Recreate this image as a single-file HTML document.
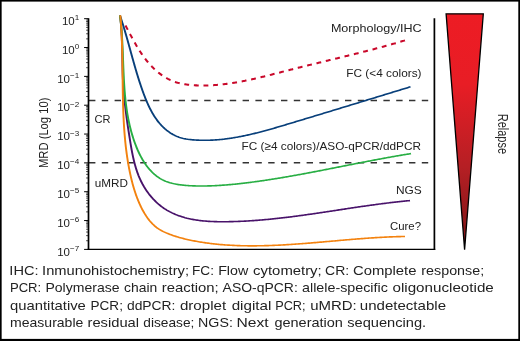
<!DOCTYPE html>
<html><head><meta charset="utf-8"><title>MRD</title>
<style>
html,body{margin:0;padding:0;background:#fff;}
body{width:520px;height:341px;overflow:hidden;}
svg{display:block;will-change:transform;}
text{font-family:"Liberation Sans",sans-serif;fill:#222;}
.tk{font-size:11.5px;fill:#1c1c1c;}
.lb{font-size:11.6px;}
.cap{font-size:12.9px;fill:#222;}
</style></head><body>
<svg width="520" height="341" viewBox="0 0 520 341">
<defs>
<linearGradient id="g" x1="0" y1="0" x2="0" y2="1">
<stop offset="0" stop-color="#ed1c24"/>
<stop offset="0.3" stop-color="#e81d25"/>
<stop offset="0.65" stop-color="#b51f24"/>
<stop offset="1" stop-color="#7a1416"/>
</linearGradient>
</defs>
<rect x="0" y="0" width="520" height="341" fill="#fff"/>
<!-- outer border -->
<rect x="0" y="0" width="520" height="1.6" fill="#000"/>
<rect x="0" y="0" width="1.65" height="341" fill="#000"/>
<rect x="518.3" y="0" width="1.7" height="341" fill="#000"/>
<rect x="0" y="338.9" width="520" height="2.1" fill="#000"/>
<!-- dashed ref lines -->
<line x1="89" y1="100.4" x2="434" y2="100.4" stroke="#333" stroke-width="1.5" stroke-dasharray="6.4 6.4"/>
<line x1="89" y1="162.7" x2="434" y2="162.7" stroke="#333" stroke-width="1.5" stroke-dasharray="6.4 6.4"/>
<!-- curves -->
<path d="M125.38,25.27 L125.76,25.98 L126.14,26.70 L126.52,27.42 L126.90,28.13 L127.28,28.86 L127.66,29.58 L128.04,30.30 L128.42,31.02 L128.80,31.75 L129.18,32.47 L129.57,33.20 L129.95,33.92 L130.34,34.65 L130.73,35.37 L131.12,36.10 L131.51,36.83 L131.90,37.55 L132.30,38.28 L132.69,39.00 L133.09,39.72 L133.49,40.45 L133.89,41.17 L134.30,41.89 L134.70,42.61 L135.11,43.33 L135.53,44.05 L135.94,44.76 L136.36,45.48 L136.78,46.19 L137.21,46.90 L137.63,47.61 L138.07,48.31 L138.50,49.01 L138.94,49.72 L139.38,50.41 L139.83,51.11 L140.28,51.80 L140.73,52.49 L141.19,53.18 L141.65,53.86 L142.12,54.54 L142.59,55.22 L143.06,55.89 L143.54,56.56 L144.03,57.23 L144.52,57.89 L145.01,58.54 L145.51,59.20 L146.02,59.85 L146.53,60.49 L147.05,61.13 L147.57,61.76 L148.10,62.39 L148.63,63.02 L149.17,63.64 L149.72,64.25 L150.27,64.86 L150.82,65.46 L151.39,66.06 L151.95,66.65 L152.53,67.23 L153.11,67.81 L153.69,68.38 L154.28,68.94 L154.87,69.50 L155.48,70.05 L156.08,70.59 L156.69,71.12 L157.31,71.65 L157.93,72.17 L158.56,72.68 L159.20,73.18 L159.83,73.67 L160.48,74.15 L161.13,74.63 L161.78,75.09 L162.44,75.55 L163.11,76.00 L163.78,76.43 L164.45,76.86 L165.13,77.28 L165.82,77.68 L166.51,78.08 L167.21,78.46 L167.91,78.84 L168.62,79.20 L169.33,79.55 L170.04,79.90 L170.77,80.22 L171.49,80.54 L172.23,80.85 L172.96,81.14 L173.70,81.42 L174.45,81.69 L175.20,81.95 L175.96,82.20 L176.72,82.43 L177.48,82.66 L178.25,82.87 L179.02,83.07 L179.80,83.26 L180.57,83.45 L181.36,83.62 L182.14,83.78 L182.93,83.94 L183.72,84.08 L184.51,84.22 L185.31,84.35 L186.11,84.47 L186.91,84.58 L187.71,84.69 L188.51,84.78 L189.32,84.87 L190.13,84.96 L190.93,85.03 L191.74,85.10 L192.55,85.16 L193.37,85.22 L194.18,85.27 L194.99,85.32 L195.80,85.36 L196.62,85.39 L197.43,85.42 L198.24,85.45 L199.05,85.47 L199.87,85.49 L200.68,85.50 L201.49,85.51 L202.30,85.51 L203.11,85.51 L203.92,85.51 L204.73,85.50 L205.55,85.49 L206.36,85.47 L207.17,85.45 L207.98,85.43 L208.78,85.40 L209.59,85.36 L210.40,85.33 L211.21,85.29 L212.02,85.25 L212.83,85.20 L213.64,85.15 L214.44,85.09 L215.25,85.04 L216.06,84.97 L216.87,84.91 L217.67,84.84 L218.48,84.77 L219.29,84.69 L220.09,84.61 L220.90,84.53 L221.70,84.45 L222.51,84.36 L223.31,84.27 L224.12,84.17 L224.92,84.08 L225.73,83.98 L226.53,83.87 L227.34,83.77 L228.14,83.66 L228.95,83.55 L229.75,83.43 L230.55,83.31 L231.35,83.19 L232.16,83.07 L232.96,82.94 L233.76,82.82 L234.56,82.69 L235.37,82.55 L236.17,82.42 L236.97,82.28 L237.77,82.14 L238.57,82.00 L239.37,81.85 L240.17,81.70 L240.97,81.55 L241.77,81.40 L242.58,81.25 L243.37,81.09 L244.17,80.93 L244.97,80.78 L245.77,80.61 L246.57,80.45 L247.37,80.28 L248.17,80.12 L248.97,79.95 L249.77,79.78 L250.57,79.61 L251.36,79.43 L252.16,79.26 L252.96,79.08 L253.76,78.90 L254.55,78.72 L255.35,78.54 L256.15,78.35 L256.94,78.17 L257.74,77.98 L258.54,77.80 L259.33,77.61 L260.13,77.42 L260.93,77.23 L261.72,77.04 L262.52,76.85 L263.31,76.65 L264.11,76.46 L264.90,76.26 L265.70,76.07 L266.49,75.87 L267.29,75.67 L268.08,75.47 L268.87,75.27 L269.67,75.07 L270.46,74.87 L271.26,74.67 L272.05,74.47 L272.84,74.27 L273.64,74.07 L274.43,73.86 L275.22,73.66 L276.02,73.46 L276.81,73.25 L277.60,73.05 L278.39,72.85 L279.19,72.64 L279.98,72.44 L280.77,72.23 L281.56,72.03 L282.35,71.82 L283.14,71.62 L283.94,71.41 L284.73,71.21 L285.52,71.01 L286.31,70.80 L287.10,70.60 L287.89,70.40 L288.68,70.19 L289.47,69.99 L290.26,69.79 L291.05,69.59 L291.84,69.39 L292.63,69.19 L293.42,68.99 L294.21,68.79 L295.00,68.59 L295.79,68.39 L296.58,68.19 L297.37,67.99 L298.16,67.79 L298.95,67.60 L299.74,67.40 L300.53,67.20 L301.31,67.01 L302.10,66.81 L302.89,66.62 L303.68,66.42 L304.47,66.23 L305.26,66.03 L306.04,65.84 L306.83,65.65 L307.62,65.45 L308.41,65.26 L309.20,65.07 L309.98,64.87 L310.77,64.68 L311.56,64.49 L312.35,64.30 L313.13,64.11 L313.92,63.91 L314.71,63.72 L315.49,63.53 L316.28,63.34 L317.07,63.15 L317.85,62.96 L318.64,62.77 L319.43,62.58 L320.21,62.39 L321.00,62.20 L321.79,62.01 L322.57,61.82 L323.36,61.63 L324.14,61.44 L324.93,61.25 L325.72,61.06 L326.50,60.87 L327.29,60.68 L328.07,60.49 L328.86,60.30 L329.65,60.11 L330.43,59.92 L331.22,59.73 L332.00,59.54 L332.79,59.35 L333.57,59.16 L334.36,58.97 L335.14,58.78 L335.93,58.59 L336.71,58.40 L337.50,58.21 L338.28,58.02 L339.07,57.83 L339.85,57.64 L340.64,57.45 L341.42,57.26 L342.21,57.06 L342.99,56.87 L343.78,56.68 L344.56,56.49 L345.35,56.30 L346.13,56.11 L346.92,55.91 L347.70,55.72 L348.49,55.53 L349.27,55.34 L350.06,55.14 L350.84,54.95 L351.63,54.76 L352.41,54.56 L353.19,54.37 L353.98,54.17 L354.76,53.98 L355.55,53.78 L356.33,53.59 L357.12,53.39 L357.90,53.20 L358.69,53.00 L359.47,52.80 L360.25,52.60 L361.04,52.41 L361.82,52.21 L362.61,52.01 L363.39,51.81 L364.18,51.61 L364.96,51.41 L365.75,51.21 L366.53,51.01 L367.31,50.81 L368.10,50.61 L368.88,50.40 L369.67,50.20 L370.45,50.00 L371.24,49.80 L372.02,49.59 L372.81,49.39 L373.59,49.18 L374.37,48.97 L375.16,48.77 L375.94,48.56 L376.73,48.35 L377.51,48.14 L378.30,47.94 L379.08,47.73 L379.87,47.52 L380.65,47.31 L381.44,47.09 L382.22,46.88 L383.01,46.67 L383.79,46.46 L384.58,46.24 L385.36,46.03 L386.15,45.81 L386.93,45.59 L387.72,45.38 L388.50,45.16 L389.29,44.94 L390.07,44.72 L390.86,44.50 L391.64,44.28 L392.43,44.06 L393.21,43.84 L394.00,43.61 L394.78,43.39 L395.57,43.16 L396.35,42.94 L397.14,42.71 L397.93,42.49 L398.71,42.26 L399.50,42.03 L400.28,41.80 L401.07,41.57 L401.86,41.34 L402.64,41.10 L403.43,40.87 L404.21,40.63 L405.00,40.40" fill="none" stroke="#c9082a" stroke-width="2.05" stroke-dasharray="4.88 4.74" stroke-dashoffset="9.36"/>
<g transform="scale(1.200,1)"><path d="M100.00,15.50 L100.26,16.42 L100.51,17.34 L100.77,18.26 L101.02,19.18 L101.27,20.09 L101.51,21.01 L101.76,21.93 L102.00,22.84 L102.24,23.76 L102.48,24.67 L102.71,25.59 L102.95,26.50 L103.18,27.41 L103.41,28.33 L103.64,29.24 L103.86,30.15 L104.09,31.06 L104.31,31.97 L104.53,32.88 L104.75,33.79 L104.97,34.70 L105.19,35.61 L105.41,36.51 L105.62,37.42 L105.84,38.33 L106.05,39.24 L106.27,40.14 L106.48,41.05 L106.69,41.95 L106.90,42.86 L107.11,43.77 L107.32,44.67 L107.53,45.57 L107.74,46.48 L107.95,47.38 L108.15,48.29 L108.36,49.19 L108.57,50.10 L108.78,51.00 L108.98,51.90 L109.19,52.81 L109.40,53.71 L109.61,54.61 L109.81,55.52 L110.02,56.42 L110.23,57.32 L110.44,58.23 L110.65,59.13 L110.86,60.03 L111.07,60.94 L111.28,61.84 L111.50,62.74 L111.71,63.65 L111.92,64.55 L112.14,65.45 L112.35,66.36 L112.57,67.26 L112.79,68.17 L113.01,69.07 L113.23,69.98 L113.45,70.88 L113.68,71.79 L113.90,72.69 L114.13,73.60 L114.36,74.50 L114.59,75.41 L114.82,76.31 L115.06,77.22 L115.29,78.13 L115.53,79.04 L115.77,79.94 L116.01,80.85 L116.26,81.76 L116.51,82.67 L116.76,83.58 L117.01,84.49 L117.26,85.40 L117.52,86.31 L117.78,87.22 L118.04,88.14 L118.31,89.05 L118.57,89.96 L118.84,90.88 L119.12,91.79 L119.39,92.70 L119.67,93.62 L119.96,94.53 L120.25,95.44 L120.54,96.35 L120.83,97.26 L121.13,98.17 L121.44,99.08 L121.75,99.98 L122.06,100.88 L122.38,101.78 L122.70,102.67 L123.03,103.57 L123.36,104.45 L123.70,105.34 L124.04,106.22 L124.39,107.09 L124.75,107.96 L125.11,108.82 L125.48,109.68 L125.86,110.54 L126.24,111.38 L126.62,112.22 L127.02,113.06 L127.42,113.88 L127.83,114.70 L128.25,115.52 L128.67,116.32 L129.10,117.12 L129.54,117.90 L129.99,118.68 L130.45,119.45 L130.91,120.21 L131.38,120.97 L131.86,121.71 L132.35,122.44 L132.85,123.16 L133.36,123.87 L133.88,124.57 L134.40,125.26 L134.94,125.93 L135.49,126.60 L136.04,127.25 L136.61,127.89 L137.18,128.52 L137.77,129.13 L138.37,129.73 L138.97,130.32 L139.59,130.89 L140.21,131.45 L140.84,131.99 L141.49,132.52 L142.14,133.03 L142.80,133.52 L143.47,134.00 L144.14,134.46 L144.83,134.90 L145.52,135.32 L146.22,135.73 L146.93,136.12 L147.65,136.49 L148.37,136.83 L149.10,137.16 L149.84,137.47 L150.58,137.76 L151.33,138.02 L152.09,138.27 L152.86,138.49 L153.63,138.69 L154.40,138.87 L155.18,139.04 L155.97,139.18 L156.75,139.32 L157.54,139.44 L158.34,139.55 L159.13,139.64 L159.92,139.73 L160.71,139.82 L161.50,139.89 L162.30,139.96 L163.09,140.02 L163.88,140.08 L164.67,140.13 L165.46,140.17 L166.25,140.21 L167.04,140.24 L167.83,140.26 L168.62,140.28 L169.41,140.29 L170.20,140.30 L170.99,140.30 L171.77,140.29 L172.56,140.28 L173.35,140.26 L174.14,140.24 L174.92,140.21 L175.71,140.17 L176.50,140.13 L177.28,140.09 L178.07,140.03 L178.85,139.98 L179.64,139.91 L180.42,139.85 L181.21,139.77 L181.99,139.70 L182.77,139.61 L183.56,139.53 L184.34,139.43 L185.12,139.33 L185.90,139.23 L186.69,139.13 L187.47,139.01 L188.25,138.90 L189.03,138.78 L189.81,138.65 L190.59,138.52 L191.37,138.39 L192.15,138.25 L192.93,138.11 L193.71,137.96 L194.49,137.81 L195.27,137.65 L196.05,137.50 L196.83,137.33 L197.60,137.17 L198.38,137.00 L199.16,136.82 L199.94,136.65 L200.71,136.47 L201.49,136.28 L202.26,136.09 L203.04,135.90 L203.82,135.71 L204.59,135.51 L205.37,135.31 L206.14,135.11 L206.92,134.90 L207.69,134.69 L208.46,134.48 L209.24,134.26 L210.01,134.04 L210.78,133.82 L211.55,133.60 L212.33,133.37 L213.10,133.14 L213.87,132.91 L214.64,132.68 L215.41,132.44 L216.18,132.21 L216.95,131.97 L217.73,131.72 L218.50,131.48 L219.27,131.23 L220.03,130.99 L220.80,130.74 L221.57,130.48 L222.34,130.23 L223.11,129.98 L223.88,129.72 L224.65,129.46 L225.41,129.20 L226.18,128.94 L226.95,128.68 L227.71,128.42 L228.48,128.15 L229.25,127.88 L230.01,127.62 L230.78,127.35 L231.54,127.08 L232.31,126.81 L233.07,126.54 L233.84,126.27 L234.60,126.00 L235.37,125.73 L236.13,125.45 L236.89,125.18 L237.66,124.91 L238.42,124.63 L239.18,124.36 L239.94,124.08 L240.71,123.81 L241.47,123.53 L242.23,123.26 L242.99,122.98 L243.75,122.71 L244.51,122.43 L245.27,122.16 L246.04,121.88 L246.80,121.61 L247.56,121.33 L248.31,121.06 L249.07,120.78 L249.83,120.51 L250.59,120.23 L251.35,119.96 L252.11,119.68 L252.87,119.41 L253.63,119.13 L254.38,118.86 L255.14,118.58 L255.90,118.31 L256.66,118.04 L257.42,117.76 L258.17,117.49 L258.93,117.21 L259.69,116.94 L260.44,116.66 L261.20,116.39 L261.96,116.11 L262.71,115.84 L263.47,115.56 L264.22,115.29 L264.98,115.01 L265.73,114.74 L266.49,114.46 L267.25,114.19 L268.00,113.91 L268.76,113.64 L269.51,113.36 L270.27,113.09 L271.02,112.81 L271.77,112.54 L272.53,112.26 L273.28,111.99 L274.04,111.71 L274.79,111.44 L275.55,111.16 L276.30,110.89 L277.05,110.61 L277.81,110.34 L278.56,110.06 L279.32,109.79 L280.07,109.51 L280.82,109.24 L281.58,108.96 L282.33,108.69 L283.09,108.41 L283.84,108.13 L284.59,107.86 L285.35,107.58 L286.10,107.31 L286.85,107.03 L287.61,106.76 L288.36,106.48 L289.11,106.21 L289.87,105.93 L290.62,105.66 L291.37,105.38 L292.13,105.10 L292.88,104.83 L293.63,104.55 L294.39,104.28 L295.14,104.00 L295.89,103.73 L296.65,103.45 L297.40,103.17 L298.16,102.90 L298.91,102.62 L299.66,102.35 L300.42,102.07 L301.17,101.79 L301.93,101.52 L302.68,101.24 L303.43,100.96 L304.19,100.69 L304.94,100.41 L305.70,100.13 L306.45,99.86 L307.20,99.58 L307.96,99.31 L308.71,99.03 L309.47,98.75 L310.22,98.48 L310.98,98.20 L311.73,97.92 L312.49,97.64 L313.24,97.37 L314.00,97.09 L314.76,96.81 L315.51,96.54 L316.27,96.26 L317.02,95.98 L317.78,95.71 L318.54,95.43 L319.29,95.15 L320.05,94.87 L320.81,94.60 L321.56,94.32 L322.32,94.04 L323.08,93.76 L323.84,93.48 L324.59,93.21 L325.35,92.93 L326.11,92.65 L326.87,92.37 L327.63,92.09 L328.39,91.82 L329.14,91.54 L329.90,91.26 L330.66,90.98 L331.42,90.70 L332.18,90.42 L332.94,90.15 L333.70,89.87 L334.46,89.59 L335.22,89.31 L335.99,89.03 L336.75,88.75 L337.51,88.47 L338.27,88.19 L339.03,87.91 L339.79,87.64 L340.56,87.36 L341.32,87.08 L342.08,86.80" fill="none" stroke="#083f7a" stroke-width="1.62"/></g>
<g transform="scale(1.200,1)"><path d="M100.00,15.50 L100.12,16.62 L100.24,17.75 L100.35,18.87 L100.45,20.00 L100.55,21.13 L100.65,22.25 L100.74,23.38 L100.82,24.51 L100.90,25.64 L100.98,26.78 L101.05,27.91 L101.12,29.04 L101.18,30.18 L101.24,31.31 L101.30,32.45 L101.35,33.58 L101.40,34.72 L101.45,35.86 L101.49,37.00 L101.53,38.14 L101.57,39.28 L101.60,40.42 L101.63,41.56 L101.67,42.70 L101.69,43.84 L101.72,44.98 L101.75,46.12 L101.77,47.26 L101.79,48.40 L101.81,49.55 L101.83,50.69 L101.85,51.83 L101.87,52.97 L101.88,54.11 L101.90,55.26 L101.92,56.40 L101.93,57.54 L101.95,58.68 L101.97,59.82 L101.98,60.97 L102.00,62.11 L102.02,63.25 L102.04,64.39 L102.05,65.53 L102.08,66.67 L102.10,67.81 L102.12,68.95 L102.14,70.09 L102.17,71.23 L102.20,72.36 L102.23,73.50 L102.26,74.64 L102.30,75.77 L102.34,76.91 L102.38,78.04 L102.42,79.17 L102.47,80.31 L102.51,81.44 L102.57,82.57 L102.62,83.70 L102.68,84.83 L102.74,85.96 L102.81,87.09 L102.87,88.21 L102.94,89.34 L103.02,90.46 L103.09,91.59 L103.17,92.72 L103.25,93.84 L103.33,94.96 L103.42,96.09 L103.51,97.21 L103.60,98.33 L103.69,99.45 L103.79,100.58 L103.88,101.70 L103.98,102.82 L104.09,103.94 L104.19,105.06 L104.30,106.18 L104.41,107.30 L104.52,108.42 L104.63,109.54 L104.75,110.66 L104.86,111.78 L104.98,112.90 L105.10,114.02 L105.23,115.15 L105.35,116.27 L105.48,117.39 L105.61,118.51 L105.74,119.63 L105.87,120.75 L106.00,121.87 L106.13,122.99 L106.27,124.11 L106.41,125.24 L106.54,126.36 L106.68,127.48 L106.83,128.60 L106.97,129.73 L107.11,130.85 L107.26,131.98 L107.40,133.10 L107.55,134.23 L107.70,135.35 L107.85,136.48 L108.00,137.61 L108.15,138.74 L108.30,139.87 L108.45,141.00 L108.60,142.13 L108.76,143.26 L108.92,144.39 L109.08,145.52 L109.24,146.65 L109.40,147.78 L109.57,148.91 L109.74,150.04 L109.91,151.17 L110.09,152.30 L110.28,153.42 L110.47,154.55 L110.66,155.67 L110.86,156.79 L111.06,157.91 L111.27,159.02 L111.49,160.14 L111.71,161.25 L111.94,162.36 L112.18,163.47 L112.43,164.57 L112.68,165.67 L112.95,166.76 L113.22,167.86 L113.50,168.95 L113.79,170.03 L114.09,171.11 L114.40,172.19 L114.72,173.26 L115.05,174.32 L115.39,175.39 L115.75,176.44 L116.11,177.49 L116.49,178.54 L116.88,179.58 L117.28,180.61 L117.70,181.64 L118.13,182.66 L118.57,183.68 L119.03,184.68 L119.50,185.68 L119.98,186.68 L120.48,187.66 L120.99,188.64 L121.52,189.61 L122.05,190.56 L122.60,191.51 L123.16,192.45 L123.73,193.38 L124.32,194.29 L124.91,195.19 L125.52,196.08 L126.14,196.96 L126.77,197.83 L127.41,198.68 L128.06,199.51 L128.72,200.33 L129.39,201.14 L130.07,201.93 L130.76,202.70 L131.46,203.46 L132.17,204.20 L132.88,204.92 L133.61,205.63 L134.34,206.31 L135.09,206.98 L135.84,207.63 L136.60,208.26 L137.36,208.87 L138.14,209.46 L138.92,210.04 L139.71,210.59 L140.50,211.13 L141.31,211.66 L142.12,212.16 L142.93,212.66 L143.76,213.13 L144.59,213.59 L145.43,214.03 L146.27,214.46 L147.12,214.87 L147.97,215.27 L148.83,215.65 L149.70,216.02 L150.57,216.37 L151.45,216.71 L152.33,217.03 L153.22,217.35 L154.11,217.65 L155.01,217.93 L155.91,218.21 L156.82,218.47 L157.73,218.71 L158.64,218.95 L159.56,219.18 L160.48,219.39 L161.41,219.59 L162.34,219.78 L163.27,219.96 L164.21,220.13 L165.15,220.29 L166.09,220.44 L167.04,220.58 L167.99,220.72 L168.94,220.84 L169.89,220.95 L170.85,221.05 L171.81,221.15 L172.77,221.24 L173.73,221.32 L174.69,221.39 L175.66,221.45 L176.63,221.51 L177.59,221.56 L178.56,221.60 L179.53,221.64 L180.50,221.67 L181.48,221.70 L182.45,221.71 L183.42,221.73 L184.39,221.74 L185.37,221.74 L186.34,221.74 L187.31,221.73 L188.28,221.72 L189.26,221.71 L190.23,221.69 L191.20,221.67 L192.17,221.65 L193.14,221.62 L194.10,221.59 L195.07,221.56 L196.04,221.52 L197.00,221.48 L197.97,221.44 L198.93,221.40 L199.89,221.35 L200.85,221.30 L201.81,221.25 L202.77,221.19 L203.73,221.13 L204.69,221.07 L205.64,221.01 L206.60,220.94 L207.56,220.88 L208.51,220.80 L209.46,220.73 L210.42,220.65 L211.37,220.58 L212.32,220.50 L213.27,220.41 L214.22,220.33 L215.17,220.24 L216.12,220.15 L217.07,220.06 L218.02,219.96 L218.96,219.86 L219.91,219.77 L220.85,219.66 L221.80,219.56 L222.74,219.46 L223.69,219.35 L224.63,219.24 L225.57,219.13 L226.51,219.02 L227.45,218.90 L228.39,218.78 L229.33,218.66 L230.27,218.54 L231.21,218.42 L232.15,218.30 L233.09,218.17 L234.03,218.05 L234.96,217.92 L235.90,217.79 L236.84,217.65 L237.77,217.52 L238.71,217.39 L239.64,217.25 L240.58,217.11 L241.51,216.97 L242.44,216.83 L243.38,216.69 L244.31,216.54 L245.24,216.40 L246.18,216.25 L247.11,216.11 L248.04,215.96 L248.97,215.81 L249.90,215.66 L250.83,215.51 L251.76,215.35 L252.69,215.20 L253.62,215.04 L254.55,214.89 L255.48,214.73 L256.41,214.57 L257.34,214.42 L258.27,214.26 L259.20,214.10 L260.13,213.94 L261.06,213.77 L261.99,213.61 L262.91,213.45 L263.84,213.28 L264.77,213.12 L265.70,212.96 L266.63,212.79 L267.56,212.62 L268.48,212.46 L269.41,212.29 L270.34,212.12 L271.27,211.96 L272.19,211.79 L273.12,211.62 L274.05,211.45 L274.98,211.28 L275.91,211.11 L276.83,210.94 L277.76,210.77 L278.69,210.60 L279.62,210.43 L280.55,210.26 L281.48,210.09 L282.40,209.92 L283.33,209.76 L284.26,209.59 L285.19,209.42 L286.12,209.25 L287.05,209.08 L287.98,208.91 L288.91,208.74 L289.84,208.57 L290.77,208.40 L291.70,208.23 L292.63,208.06 L293.56,207.90 L294.49,207.73 L295.42,207.56 L296.36,207.40 L297.29,207.23 L298.22,207.07 L299.15,206.90 L300.09,206.74 L301.02,206.57 L301.95,206.41 L302.89,206.25 L303.82,206.09 L304.76,205.93 L305.69,205.77 L306.63,205.61 L307.57,205.45 L308.50,205.29 L309.44,205.14 L310.38,204.98 L311.32,204.83 L312.26,204.68 L313.20,204.52 L314.13,204.37 L315.08,204.22 L316.02,204.07 L316.96,203.93 L317.90,203.78 L318.84,203.63 L319.79,203.49 L320.73,203.35 L321.67,203.21 L322.62,203.07 L323.56,202.93 L324.51,202.79 L325.46,202.65 L326.41,202.52 L327.35,202.39 L328.30,202.26 L329.25,202.13 L330.20,202.00 L331.15,201.87 L332.11,201.75 L333.06,201.62 L334.01,201.50 L334.97,201.38 L335.92,201.27 L336.88,201.15 L337.83,201.04 L338.79,200.92 L339.75,200.81 L340.71,200.71 L341.67,200.60" fill="none" stroke="#48126a" stroke-width="1.62"/></g>
<g transform="scale(1.200,1)"><path d="M100.00,15.50 L100.11,16.56 L100.22,17.63 L100.33,18.69 L100.43,19.76 L100.53,20.82 L100.63,21.89 L100.72,22.96 L100.81,24.02 L100.89,25.09 L100.98,26.16 L101.06,27.23 L101.13,28.30 L101.21,29.37 L101.28,30.43 L101.35,31.50 L101.41,32.57 L101.48,33.64 L101.54,34.71 L101.60,35.78 L101.66,36.86 L101.71,37.93 L101.76,39.00 L101.82,40.07 L101.87,41.14 L101.91,42.21 L101.96,43.29 L102.01,44.36 L102.05,45.43 L102.09,46.50 L102.13,47.58 L102.17,48.65 L102.21,49.72 L102.25,50.79 L102.29,51.87 L102.32,52.94 L102.36,54.01 L102.39,55.09 L102.43,56.16 L102.46,57.23 L102.50,58.31 L102.53,59.38 L102.56,60.45 L102.60,61.53 L102.63,62.60 L102.66,63.67 L102.70,64.75 L102.73,65.82 L102.77,66.89 L102.80,67.96 L102.84,69.04 L102.88,70.11 L102.91,71.18 L102.95,72.25 L102.99,73.32 L103.03,74.40 L103.07,75.47 L103.12,76.54 L103.16,77.61 L103.21,78.68 L103.25,79.75 L103.30,80.82 L103.35,81.89 L103.41,82.96 L103.46,84.03 L103.52,85.10 L103.58,86.17 L103.64,87.24 L103.70,88.30 L103.76,89.37 L103.83,90.44 L103.90,91.51 L103.98,92.57 L104.05,93.64 L104.13,94.70 L104.21,95.77 L104.30,96.83 L104.38,97.90 L104.47,98.96 L104.57,100.03 L104.67,101.09 L104.77,102.15 L104.87,103.21 L104.98,104.27 L105.09,105.33 L105.21,106.39 L105.33,107.45 L105.45,108.51 L105.58,109.57 L105.71,110.63 L105.85,111.68 L105.99,112.74 L106.13,113.79 L106.28,114.85 L106.44,115.90 L106.60,116.96 L106.76,118.01 L106.93,119.06 L107.11,120.11 L107.29,121.16 L107.47,122.21 L107.66,123.26 L107.86,124.31 L108.06,125.36 L108.26,126.40 L108.47,127.45 L108.69,128.49 L108.92,129.54 L109.15,130.58 L109.38,131.62 L109.62,132.67 L109.87,133.71 L110.13,134.75 L110.39,135.78 L110.65,136.82 L110.93,137.86 L111.21,138.89 L111.50,139.93 L111.79,140.96 L112.09,141.99 L112.40,143.02 L112.72,144.05 L113.04,145.08 L113.37,146.10 L113.71,147.12 L114.06,148.13 L114.41,149.14 L114.77,150.15 L115.14,151.14 L115.52,152.14 L115.91,153.12 L116.31,154.10 L116.71,155.07 L117.12,156.04 L117.55,157.00 L117.98,157.94 L118.42,158.88 L118.87,159.81 L119.33,160.73 L119.80,161.64 L120.28,162.53 L120.77,163.42 L121.27,164.29 L121.78,165.15 L122.30,166.00 L122.84,166.84 L123.38,167.66 L123.93,168.47 L124.49,169.26 L125.07,170.04 L125.66,170.80 L126.25,171.55 L126.86,172.28 L127.48,173.00 L128.12,173.69 L128.76,174.37 L129.42,175.03 L130.08,175.67 L130.77,176.30 L131.46,176.90 L132.16,177.48 L132.88,178.05 L133.61,178.59 L134.36,179.11 L135.12,179.61 L135.89,180.08 L136.67,180.54 L137.47,180.97 L138.28,181.38 L139.11,181.76 L139.94,182.12 L140.80,182.45 L141.66,182.77 L142.54,183.06 L143.42,183.33 L144.31,183.58 L145.21,183.81 L146.12,184.02 L147.03,184.22 L147.94,184.41 L148.86,184.58 L149.78,184.73 L150.70,184.88 L151.62,185.01 L152.53,185.14 L153.44,185.25 L154.36,185.35 L155.27,185.45 L156.18,185.54 L157.08,185.62 L157.99,185.69 L158.90,185.75 L159.80,185.81 L160.70,185.85 L161.60,185.89 L162.50,185.93 L163.40,185.96 L164.30,185.98 L165.20,185.99 L166.10,186.00 L166.99,186.01 L167.89,186.01 L168.79,186.00 L169.68,185.99 L170.57,185.98 L171.47,185.96 L172.36,185.94 L173.25,185.92 L174.15,185.89 L175.04,185.85 L175.93,185.82 L176.82,185.78 L177.72,185.73 L178.61,185.69 L179.50,185.63 L180.39,185.58 L181.28,185.52 L182.17,185.46 L183.06,185.40 L183.95,185.33 L184.84,185.26 L185.72,185.18 L186.61,185.11 L187.50,185.03 L188.39,184.94 L189.28,184.86 L190.16,184.77 L191.05,184.68 L191.94,184.58 L192.83,184.49 L193.71,184.39 L194.60,184.29 L195.48,184.18 L196.37,184.08 L197.26,183.97 L198.14,183.85 L199.03,183.74 L199.91,183.62 L200.80,183.51 L201.68,183.38 L202.57,183.26 L203.45,183.14 L204.34,183.01 L205.22,182.88 L206.10,182.75 L206.99,182.62 L207.87,182.49 L208.76,182.35 L209.64,182.21 L210.52,182.07 L211.41,181.93 L212.29,181.79 L213.17,181.65 L214.06,181.50 L214.94,181.36 L215.82,181.21 L216.71,181.06 L217.59,180.91 L218.47,180.75 L219.35,180.60 L220.24,180.44 L221.12,180.29 L222.00,180.13 L222.88,179.97 L223.77,179.81 L224.65,179.64 L225.53,179.48 L226.41,179.31 L227.29,179.15 L228.18,178.98 L229.06,178.81 L229.94,178.64 L230.82,178.47 L231.70,178.30 L232.58,178.12 L233.47,177.95 L234.35,177.77 L235.23,177.59 L236.11,177.42 L236.99,177.24 L237.87,177.06 L238.75,176.87 L239.63,176.69 L240.51,176.51 L241.39,176.32 L242.27,176.14 L243.16,175.95 L244.04,175.77 L244.92,175.58 L245.80,175.39 L246.68,175.20 L247.56,175.01 L248.44,174.82 L249.32,174.62 L250.20,174.43 L251.08,174.24 L251.96,174.04 L252.84,173.85 L253.72,173.65 L254.60,173.46 L255.48,173.26 L256.36,173.06 L257.24,172.86 L258.12,172.66 L259.00,172.46 L259.88,172.26 L260.75,172.06 L261.63,171.86 L262.51,171.66 L263.39,171.46 L264.27,171.25 L265.15,171.05 L266.03,170.84 L266.91,170.64 L267.79,170.44 L268.67,170.23 L269.55,170.03 L270.43,169.82 L271.31,169.61 L272.18,169.41 L273.06,169.20 L273.94,168.99 L274.82,168.79 L275.70,168.58 L276.58,168.37 L277.46,168.16 L278.34,167.96 L279.22,167.75 L280.09,167.54 L280.97,167.33 L281.85,167.12 L282.73,166.91 L283.61,166.71 L284.49,166.50 L285.37,166.29 L286.25,166.08 L287.12,165.87 L288.00,165.66 L288.88,165.45 L289.76,165.24 L290.64,165.04 L291.52,164.83 L292.40,164.62 L293.27,164.41 L294.15,164.20 L295.03,164.00 L295.91,163.79 L296.79,163.58 L297.67,163.38 L298.55,163.17 L299.42,162.96 L300.30,162.76 L301.18,162.55 L302.06,162.34 L302.94,162.14 L303.82,161.94 L304.70,161.73 L305.58,161.53 L306.45,161.32 L307.33,161.12 L308.21,160.92 L309.09,160.72 L309.97,160.51 L310.85,160.31 L311.73,160.11 L312.60,159.91 L313.48,159.71 L314.36,159.52 L315.24,159.32 L316.12,159.12 L317.00,158.92 L317.88,158.73 L318.76,158.53 L319.64,158.34 L320.51,158.14 L321.39,157.95 L322.27,157.76 L323.15,157.57 L324.03,157.38 L324.91,157.19 L325.79,157.00 L326.67,156.81 L327.55,156.62 L328.43,156.44 L329.31,156.25 L330.18,156.07 L331.06,155.88 L331.94,155.70 L332.82,155.52 L333.70,155.34 L334.58,155.16 L335.46,154.98 L336.34,154.81 L337.22,154.63 L338.10,154.46 L338.98,154.28 L339.86,154.11 L340.74,153.94 L341.62,153.77 L342.50,153.60" fill="none" stroke="#27ae43" stroke-width="1.62"/></g>
<g transform="scale(1.200,1)"><path d="M100.26,15.30 L100.34,16.47 L100.42,17.65 L100.51,18.83 L100.58,20.00 L100.66,21.18 L100.73,22.35 L100.80,23.53 L100.87,24.71 L100.93,25.89 L100.99,27.06 L101.05,28.24 L101.11,29.42 L101.17,30.60 L101.22,31.78 L101.27,32.96 L101.32,34.13 L101.37,35.31 L101.41,36.49 L101.45,37.67 L101.50,38.85 L101.53,40.03 L101.57,41.22 L101.61,42.40 L101.64,43.58 L101.67,44.76 L101.71,45.94 L101.74,47.12 L101.76,48.30 L101.79,49.49 L101.82,50.67 L101.84,51.85 L101.86,53.03 L101.89,54.21 L101.91,55.40 L101.93,56.58 L101.94,57.76 L101.96,58.95 L101.98,60.13 L102.00,61.31 L102.01,62.50 L102.03,63.68 L102.04,64.86 L102.06,66.05 L102.07,67.23 L102.08,68.41 L102.09,69.60 L102.11,70.78 L102.12,71.96 L102.13,73.15 L102.14,74.33 L102.15,75.52 L102.16,76.70 L102.18,77.88 L102.19,79.07 L102.20,80.25 L102.21,81.44 L102.22,82.62 L102.24,83.80 L102.25,84.99 L102.26,86.17 L102.27,87.35 L102.29,88.54 L102.30,89.72 L102.32,90.90 L102.34,92.09 L102.35,93.27 L102.37,94.45 L102.39,95.64 L102.41,96.82 L102.43,98.00 L102.45,99.19 L102.47,100.37 L102.50,101.55 L102.52,102.73 L102.55,103.91 L102.57,105.10 L102.60,106.28 L102.63,107.46 L102.67,108.64 L102.70,109.82 L102.73,111.00 L102.77,112.19 L102.81,113.37 L102.85,114.55 L102.89,115.73 L102.93,116.91 L102.98,118.09 L103.03,119.27 L103.08,120.45 L103.13,121.62 L103.18,122.80 L103.24,123.98 L103.30,125.16 L103.36,126.34 L103.42,127.52 L103.49,128.69 L103.56,129.87 L103.63,131.05 L103.70,132.22 L103.78,133.40 L103.86,134.58 L103.94,135.75 L104.03,136.93 L104.11,138.10 L104.20,139.28 L104.30,140.45 L104.39,141.63 L104.49,142.80 L104.60,143.97 L104.70,145.15 L104.81,146.32 L104.93,147.49 L105.04,148.66 L105.16,149.83 L105.29,151.00 L105.41,152.17 L105.54,153.34 L105.68,154.51 L105.82,155.68 L105.96,156.85 L106.11,158.02 L106.26,159.19 L106.41,160.35 L106.57,161.52 L106.73,162.69 L106.90,163.85 L107.07,165.02 L107.24,166.18 L107.42,167.35 L107.60,168.51 L107.79,169.67 L107.99,170.84 L108.18,172.00 L108.38,173.16 L108.59,174.32 L108.80,175.48 L109.02,176.64 L109.24,177.80 L109.47,178.95 L109.70,180.11 L109.94,181.26 L110.19,182.41 L110.44,183.56 L110.70,184.71 L110.97,185.85 L111.24,186.99 L111.52,188.13 L111.80,189.27 L112.10,190.40 L112.40,191.53 L112.71,192.66 L113.03,193.78 L113.35,194.91 L113.68,196.02 L114.03,197.13 L114.38,198.24 L114.74,199.35 L115.11,200.45 L115.49,201.54 L115.87,202.63 L116.27,203.72 L116.68,204.80 L117.10,205.87 L117.52,206.94 L117.96,208.01 L118.41,209.06 L118.87,210.11 L119.34,211.15 L119.83,212.18 L120.32,213.21 L120.83,214.22 L121.36,215.21 L121.89,216.20 L122.45,217.17 L123.01,218.12 L123.59,219.06 L124.19,219.98 L124.80,220.88 L125.44,221.76 L126.08,222.63 L126.75,223.47 L127.43,224.29 L128.13,225.08 L128.85,225.86 L129.59,226.60 L130.35,227.33 L131.13,228.02 L131.93,228.69 L132.75,229.33 L133.59,229.94 L134.44,230.52 L135.32,231.08 L136.20,231.62 L137.10,232.13 L138.01,232.62 L138.93,233.10 L139.86,233.56 L140.79,234.00 L141.72,234.42 L142.65,234.84 L143.59,235.24 L144.53,235.63 L145.47,236.01 L146.41,236.37 L147.35,236.72 L148.30,237.07 L149.25,237.40 L150.19,237.72 L151.14,238.03 L152.10,238.33 L153.05,238.63 L154.00,238.91 L154.96,239.19 L155.91,239.45 L156.87,239.71 L157.83,239.96 L158.79,240.21 L159.75,240.45 L160.71,240.68 L161.67,240.90 L162.64,241.12 L163.60,241.33 L164.57,241.54 L165.54,241.74 L166.51,241.94 L167.47,242.13 L168.44,242.32 L169.41,242.49 L170.39,242.67 L171.36,242.84 L172.33,243.00 L173.31,243.16 L174.28,243.31 L175.26,243.46 L176.23,243.60 L177.21,243.74 L178.19,243.88 L179.16,244.00 L180.14,244.13 L181.12,244.25 L182.10,244.36 L183.08,244.47 L184.06,244.57 L185.05,244.67 L186.03,244.77 L187.01,244.86 L187.99,244.94 L188.98,245.03 L189.96,245.10 L190.95,245.18 L191.93,245.25 L192.92,245.31 L193.90,245.37 L194.89,245.43 L195.87,245.48 L196.86,245.53 L197.85,245.58 L198.83,245.62 L199.82,245.65 L200.81,245.69 L201.79,245.72 L202.78,245.75 L203.77,245.77 L204.76,245.79 L205.74,245.80 L206.73,245.82 L207.72,245.83 L208.71,245.83 L209.70,245.83 L210.68,245.83 L211.67,245.83 L212.66,245.82 L213.65,245.82 L214.64,245.80 L215.62,245.79 L216.61,245.77 L217.60,245.75 L218.58,245.73 L219.57,245.70 L220.56,245.67 L221.54,245.64 L222.53,245.60 L223.52,245.57 L224.50,245.53 L225.49,245.49 L226.47,245.44 L227.46,245.40 L228.44,245.35 L229.43,245.30 L230.41,245.25 L231.40,245.19 L232.38,245.13 L233.37,245.07 L234.35,245.01 L235.34,244.95 L236.32,244.89 L237.31,244.82 L238.29,244.75 L239.27,244.68 L240.26,244.61 L241.24,244.53 L242.23,244.46 L243.21,244.38 L244.19,244.30 L245.18,244.22 L246.16,244.14 L247.14,244.06 L248.12,243.97 L249.11,243.89 L250.09,243.80 L251.07,243.71 L252.05,243.62 L253.04,243.53 L254.02,243.44 L255.00,243.35 L255.98,243.26 L256.97,243.16 L257.95,243.07 L258.93,242.97 L259.91,242.87 L260.89,242.77 L261.88,242.68 L262.86,242.58 L263.84,242.48 L264.82,242.38 L265.80,242.28 L266.78,242.17 L267.77,242.07 L268.75,241.97 L269.73,241.87 L270.71,241.76 L271.69,241.66 L272.67,241.56 L273.65,241.45 L274.64,241.35 L275.62,241.24 L276.60,241.14 L277.58,241.04 L278.56,240.93 L279.54,240.83 L280.52,240.72 L281.50,240.62 L282.49,240.52 L283.47,240.41 L284.45,240.31 L285.43,240.21 L286.41,240.11 L287.39,240.01 L288.37,239.90 L289.35,239.80 L290.33,239.70 L291.32,239.60 L292.30,239.51 L293.28,239.41 L294.26,239.31 L295.24,239.21 L296.22,239.12 L297.20,239.02 L298.19,238.93 L299.17,238.84 L300.15,238.75 L301.13,238.66 L302.11,238.57 L303.09,238.48 L304.07,238.39 L305.06,238.31 L306.04,238.22 L307.02,238.14 L308.00,238.06 L308.98,237.98 L309.97,237.90 L310.95,237.82 L311.93,237.75 L312.91,237.67 L313.89,237.60 L314.88,237.53 L315.86,237.46 L316.84,237.39 L317.82,237.33 L318.81,237.27 L319.79,237.21 L320.77,237.15 L321.76,237.09 L322.74,237.03 L323.72,236.98 L324.71,236.93 L325.69,236.88 L326.67,236.84 L327.66,236.79 L328.64,236.75 L329.62,236.71 L330.61,236.68 L331.59,236.64 L332.58,236.61 L333.56,236.58 L334.55,236.56 L335.53,236.53 L336.52,236.51 L337.50,236.49" fill="none" stroke="#f3820f" stroke-width="1.62"/></g>
<!-- axes -->
<path d="M88.50,18.20 V250.05 M434.40,250.05 V18.20" fill="none" stroke="#000" stroke-width="1.7"/>
<path d="M87.65,249.40 H435.25" fill="none" stroke="#000" stroke-width="1.3"/>
<line x1="84.10" y1="18.70" x2="88.50" y2="18.70" stroke="#000" stroke-width="1"/>
<line x1="86.10" y1="38.86" x2="88.50" y2="38.86" stroke="#000" stroke-width="0.7"/>
<line x1="86.10" y1="33.78" x2="88.50" y2="33.78" stroke="#000" stroke-width="0.7"/>
<line x1="86.10" y1="30.18" x2="88.50" y2="30.18" stroke="#000" stroke-width="0.7"/>
<line x1="86.10" y1="27.38" x2="88.50" y2="27.38" stroke="#000" stroke-width="0.7"/>
<line x1="86.10" y1="25.10" x2="88.50" y2="25.10" stroke="#000" stroke-width="0.7"/>
<line x1="86.10" y1="23.17" x2="88.50" y2="23.17" stroke="#000" stroke-width="0.7"/>
<line x1="86.10" y1="21.49" x2="88.50" y2="21.49" stroke="#000" stroke-width="0.7"/>
<line x1="86.10" y1="20.02" x2="88.50" y2="20.02" stroke="#000" stroke-width="0.7"/>
<line x1="84.10" y1="47.54" x2="88.50" y2="47.54" stroke="#000" stroke-width="1"/>
<line x1="86.10" y1="67.69" x2="88.50" y2="67.69" stroke="#000" stroke-width="0.7"/>
<line x1="86.10" y1="62.62" x2="88.50" y2="62.62" stroke="#000" stroke-width="0.7"/>
<line x1="86.10" y1="59.01" x2="88.50" y2="59.01" stroke="#000" stroke-width="0.7"/>
<line x1="86.10" y1="56.22" x2="88.50" y2="56.22" stroke="#000" stroke-width="0.7"/>
<line x1="86.10" y1="53.94" x2="88.50" y2="53.94" stroke="#000" stroke-width="0.7"/>
<line x1="86.10" y1="52.00" x2="88.50" y2="52.00" stroke="#000" stroke-width="0.7"/>
<line x1="86.10" y1="50.33" x2="88.50" y2="50.33" stroke="#000" stroke-width="0.7"/>
<line x1="86.10" y1="48.86" x2="88.50" y2="48.86" stroke="#000" stroke-width="0.7"/>
<line x1="84.10" y1="76.38" x2="88.50" y2="76.38" stroke="#000" stroke-width="1"/>
<line x1="86.10" y1="96.53" x2="88.50" y2="96.53" stroke="#000" stroke-width="0.7"/>
<line x1="86.10" y1="91.45" x2="88.50" y2="91.45" stroke="#000" stroke-width="0.7"/>
<line x1="86.10" y1="87.85" x2="88.50" y2="87.85" stroke="#000" stroke-width="0.7"/>
<line x1="86.10" y1="85.06" x2="88.50" y2="85.06" stroke="#000" stroke-width="0.7"/>
<line x1="86.10" y1="82.77" x2="88.50" y2="82.77" stroke="#000" stroke-width="0.7"/>
<line x1="86.10" y1="80.84" x2="88.50" y2="80.84" stroke="#000" stroke-width="0.7"/>
<line x1="86.10" y1="79.17" x2="88.50" y2="79.17" stroke="#000" stroke-width="0.7"/>
<line x1="86.10" y1="77.69" x2="88.50" y2="77.69" stroke="#000" stroke-width="0.7"/>
<line x1="84.10" y1="105.21" x2="88.50" y2="105.21" stroke="#000" stroke-width="1"/>
<line x1="86.10" y1="125.37" x2="88.50" y2="125.37" stroke="#000" stroke-width="0.7"/>
<line x1="86.10" y1="120.29" x2="88.50" y2="120.29" stroke="#000" stroke-width="0.7"/>
<line x1="86.10" y1="116.69" x2="88.50" y2="116.69" stroke="#000" stroke-width="0.7"/>
<line x1="86.10" y1="113.89" x2="88.50" y2="113.89" stroke="#000" stroke-width="0.7"/>
<line x1="86.10" y1="111.61" x2="88.50" y2="111.61" stroke="#000" stroke-width="0.7"/>
<line x1="86.10" y1="109.68" x2="88.50" y2="109.68" stroke="#000" stroke-width="0.7"/>
<line x1="86.10" y1="108.01" x2="88.50" y2="108.01" stroke="#000" stroke-width="0.7"/>
<line x1="86.10" y1="106.53" x2="88.50" y2="106.53" stroke="#000" stroke-width="0.7"/>
<line x1="84.10" y1="134.05" x2="88.50" y2="134.05" stroke="#000" stroke-width="1"/>
<line x1="86.10" y1="154.21" x2="88.50" y2="154.21" stroke="#000" stroke-width="0.7"/>
<line x1="86.10" y1="149.13" x2="88.50" y2="149.13" stroke="#000" stroke-width="0.7"/>
<line x1="86.10" y1="145.53" x2="88.50" y2="145.53" stroke="#000" stroke-width="0.7"/>
<line x1="86.10" y1="142.73" x2="88.50" y2="142.73" stroke="#000" stroke-width="0.7"/>
<line x1="86.10" y1="140.45" x2="88.50" y2="140.45" stroke="#000" stroke-width="0.7"/>
<line x1="86.10" y1="138.52" x2="88.50" y2="138.52" stroke="#000" stroke-width="0.7"/>
<line x1="86.10" y1="136.84" x2="88.50" y2="136.84" stroke="#000" stroke-width="0.7"/>
<line x1="86.10" y1="135.37" x2="88.50" y2="135.37" stroke="#000" stroke-width="0.7"/>
<line x1="84.10" y1="162.89" x2="88.50" y2="162.89" stroke="#000" stroke-width="1"/>
<line x1="86.10" y1="183.04" x2="88.50" y2="183.04" stroke="#000" stroke-width="0.7"/>
<line x1="86.10" y1="177.97" x2="88.50" y2="177.97" stroke="#000" stroke-width="0.7"/>
<line x1="86.10" y1="174.36" x2="88.50" y2="174.36" stroke="#000" stroke-width="0.7"/>
<line x1="86.10" y1="171.57" x2="88.50" y2="171.57" stroke="#000" stroke-width="0.7"/>
<line x1="86.10" y1="169.29" x2="88.50" y2="169.29" stroke="#000" stroke-width="0.7"/>
<line x1="86.10" y1="167.35" x2="88.50" y2="167.35" stroke="#000" stroke-width="0.7"/>
<line x1="86.10" y1="165.68" x2="88.50" y2="165.68" stroke="#000" stroke-width="0.7"/>
<line x1="86.10" y1="164.21" x2="88.50" y2="164.21" stroke="#000" stroke-width="0.7"/>
<line x1="84.10" y1="191.72" x2="88.50" y2="191.72" stroke="#000" stroke-width="1"/>
<line x1="86.10" y1="211.88" x2="88.50" y2="211.88" stroke="#000" stroke-width="0.7"/>
<line x1="86.10" y1="206.80" x2="88.50" y2="206.80" stroke="#000" stroke-width="0.7"/>
<line x1="86.10" y1="203.20" x2="88.50" y2="203.20" stroke="#000" stroke-width="0.7"/>
<line x1="86.10" y1="200.41" x2="88.50" y2="200.41" stroke="#000" stroke-width="0.7"/>
<line x1="86.10" y1="198.12" x2="88.50" y2="198.12" stroke="#000" stroke-width="0.7"/>
<line x1="86.10" y1="196.19" x2="88.50" y2="196.19" stroke="#000" stroke-width="0.7"/>
<line x1="86.10" y1="194.52" x2="88.50" y2="194.52" stroke="#000" stroke-width="0.7"/>
<line x1="86.10" y1="193.04" x2="88.50" y2="193.04" stroke="#000" stroke-width="0.7"/>
<line x1="84.10" y1="220.56" x2="88.50" y2="220.56" stroke="#000" stroke-width="1"/>
<line x1="86.10" y1="240.72" x2="88.50" y2="240.72" stroke="#000" stroke-width="0.7"/>
<line x1="86.10" y1="235.64" x2="88.50" y2="235.64" stroke="#000" stroke-width="0.7"/>
<line x1="86.10" y1="232.04" x2="88.50" y2="232.04" stroke="#000" stroke-width="0.7"/>
<line x1="86.10" y1="229.24" x2="88.50" y2="229.24" stroke="#000" stroke-width="0.7"/>
<line x1="86.10" y1="226.96" x2="88.50" y2="226.96" stroke="#000" stroke-width="0.7"/>
<line x1="86.10" y1="225.03" x2="88.50" y2="225.03" stroke="#000" stroke-width="0.7"/>
<line x1="86.10" y1="223.36" x2="88.50" y2="223.36" stroke="#000" stroke-width="0.7"/>
<line x1="86.10" y1="221.88" x2="88.50" y2="221.88" stroke="#000" stroke-width="0.7"/>
<line x1="84.10" y1="249.40" x2="88.50" y2="249.40" stroke="#000" stroke-width="1"/>
<text x="79.2" y="24.90" text-anchor="end" class="tk">10<tspan dy="-4.6" font-size="8.1">1</tspan></text>
<text x="79.2" y="53.74" text-anchor="end" class="tk">10<tspan dy="-4.6" font-size="8.1">0</tspan></text>
<text x="79.2" y="82.58" text-anchor="end" class="tk">10<tspan dy="-4.6" font-size="8.1">−1</tspan></text>
<text x="79.2" y="111.41" text-anchor="end" class="tk">10<tspan dy="-4.6" font-size="8.1">−2</tspan></text>
<text x="79.2" y="140.25" text-anchor="end" class="tk">10<tspan dy="-4.6" font-size="8.1">−3</tspan></text>
<text x="79.2" y="169.09" text-anchor="end" class="tk">10<tspan dy="-4.6" font-size="8.1">−4</tspan></text>
<text x="79.2" y="197.92" text-anchor="end" class="tk">10<tspan dy="-4.6" font-size="8.1">−5</tspan></text>
<text x="79.2" y="226.76" text-anchor="end" class="tk">10<tspan dy="-4.6" font-size="8.1">−6</tspan></text>
<text x="79.2" y="255.60" text-anchor="end" class="tk">10<tspan dy="-4.6" font-size="8.1">−7</tspan></text>
<!-- y label -->
<text transform="translate(47.5,168) rotate(-90) scale(0.905,1)" font-size="12.4" style="fill:#222">MRD (Log 10)</text>
<!-- line labels -->
<text x="330.9" y="31.9" class="lb" textLength="90.8" lengthAdjust="spacingAndGlyphs">Morphology/IHC</text>
<text x="346.3" y="77.4" class="lb" textLength="75.2" lengthAdjust="spacingAndGlyphs">FC (&lt;4 colors)</text>
<text x="241.6" y="150" class="lb" textLength="179.4" lengthAdjust="spacingAndGlyphs">FC (≥4 colors)/ASO-qPCR/ddPCR</text>
<text x="396" y="193.6" class="lb" textLength="25.8" lengthAdjust="spacingAndGlyphs">NGS</text>
<text x="390" y="230.4" class="lb" textLength="31" lengthAdjust="spacingAndGlyphs">Cure?</text>
<text x="94.4" y="123" class="lb" textLength="16" lengthAdjust="spacingAndGlyphs">CR</text>
<text x="94.8" y="186.5" class="lb" textLength="33.2" lengthAdjust="spacingAndGlyphs">uMRD</text>
<!-- triangle -->
<path d="M446.1,13.8 L483.3,13.8 L464.6,249.6 Z" fill="url(#g)" stroke="#000" stroke-width="1.3" stroke-linejoin="miter"/>
<!-- relapse -->
<text transform="translate(497.6,113.7) rotate(90) scale(0.775,1)" font-size="14.2" style="fill:#2a2a2a">Relapse</text>
<!-- caption -->
<text x="9.39" y="275.30" class="cap" textLength="29.20" lengthAdjust="spacingAndGlyphs">IHC:</text>
<text x="42.08" y="275.30" class="cap" textLength="146.93" lengthAdjust="spacingAndGlyphs">Inmunohistochemistry;</text>
<text x="192.01" y="275.30" class="cap" textLength="21.93" lengthAdjust="spacingAndGlyphs">FC:</text>
<text x="218.16" y="275.30" class="cap" textLength="30.09" lengthAdjust="spacingAndGlyphs">Flow</text>
<text x="253.13" y="275.30" class="cap" textLength="68.56" lengthAdjust="spacingAndGlyphs">cytometry;</text>
<text x="325.10" y="275.30" class="cap" textLength="24.09" lengthAdjust="spacingAndGlyphs">CR:</text>
<text x="352.96" y="275.30" class="cap" textLength="63.51" lengthAdjust="spacingAndGlyphs">Complete</text>
<text x="421.37" y="275.30" class="cap" textLength="62.77" lengthAdjust="spacingAndGlyphs">response;</text>
<text x="9.95" y="292.40" class="cap" textLength="31.28" lengthAdjust="spacingAndGlyphs">PCR:</text>
<text x="45.48" y="292.40" class="cap" textLength="74.05" lengthAdjust="spacingAndGlyphs">Polymerase</text>
<text x="123.97" y="292.40" class="cap" textLength="33.24" lengthAdjust="spacingAndGlyphs">chain</text>
<text x="161.73" y="292.40" class="cap" textLength="57.04" lengthAdjust="spacingAndGlyphs">reaction;</text>
<text x="222.63" y="292.40" class="cap" textLength="75.13" lengthAdjust="spacingAndGlyphs">ASO-qPCR:</text>
<text x="302.06" y="292.40" class="cap" textLength="85.77" lengthAdjust="spacingAndGlyphs">allele-specific</text>
<text x="392.49" y="292.40" class="cap" textLength="101.32" lengthAdjust="spacingAndGlyphs">oligonucleotide</text>
<text x="10.01" y="310.10" class="cap" textLength="75.86" lengthAdjust="spacingAndGlyphs">quantitative</text>
<text x="90.52" y="310.10" class="cap" textLength="32.39" lengthAdjust="spacingAndGlyphs">PCR;</text>
<text x="126.95" y="310.10" class="cap" textLength="48.52" lengthAdjust="spacingAndGlyphs">ddPCR:</text>
<text x="179.90" y="310.10" class="cap" textLength="46.22" lengthAdjust="spacingAndGlyphs">droplet</text>
<text x="231.69" y="310.10" class="cap" textLength="39.64" lengthAdjust="spacingAndGlyphs">digital</text>
<text x="275.18" y="310.10" class="cap" textLength="30.35" lengthAdjust="spacingAndGlyphs">PCR;</text>
<text x="310.23" y="310.10" class="cap" textLength="46.54" lengthAdjust="spacingAndGlyphs">uMRD:</text>
<text x="359.82" y="310.10" class="cap" textLength="86.19" lengthAdjust="spacingAndGlyphs">undetectable</text>
<text x="10.09" y="327.30" class="cap" textLength="73.25" lengthAdjust="spacingAndGlyphs">measurable</text>
<text x="87.54" y="327.30" class="cap" textLength="51.54" lengthAdjust="spacingAndGlyphs">residual</text>
<text x="143.25" y="327.30" class="cap" textLength="51.08" lengthAdjust="spacingAndGlyphs">disease;</text>
<text x="198.06" y="327.30" class="cap" textLength="34.79" lengthAdjust="spacingAndGlyphs">NGS:</text>
<text x="236.45" y="327.30" class="cap" textLength="32.15" lengthAdjust="spacingAndGlyphs">Next</text>
<text x="274.42" y="327.30" class="cap" textLength="68.54" lengthAdjust="spacingAndGlyphs">generation</text>
<text x="347.26" y="327.30" class="cap" textLength="78.90" lengthAdjust="spacingAndGlyphs">sequencing.</text>
</svg>
</body></html>
